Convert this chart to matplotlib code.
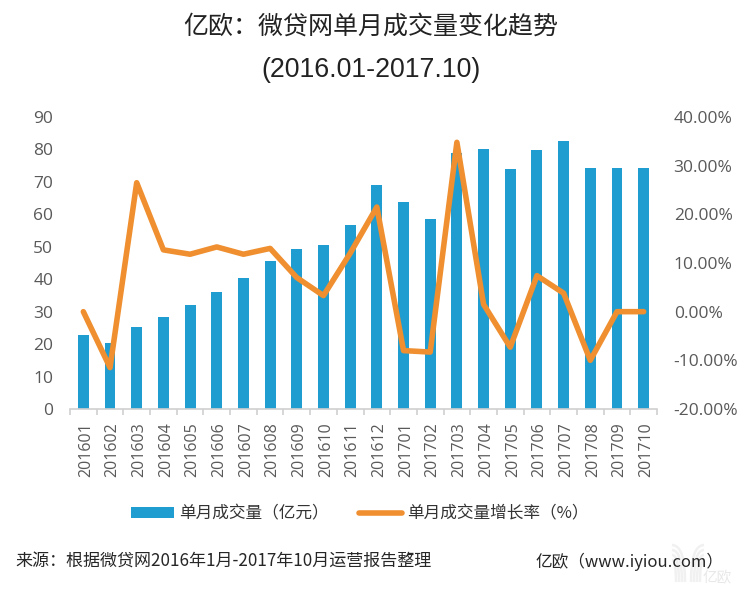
import matplotlib
matplotlib.use("Agg")
import matplotlib.pyplot as plt
from matplotlib.patches import PathPatch
from matplotlib.path import Path
from matplotlib.transforms import ScaledTranslation
import numpy as np

months = ["201601", "201602", "201603", "201604", "201605", "201606", "201607", "201608",
          "201609", "201610", "201611", "201612", "201701", "201702", "201703", "201704",
          "201705", "201706", "201707", "201708", "201709", "201710"]
volume = [22.7, 20.2, 25.3, 28.5, 32.0, 36.2, 40.5, 45.7, 49.2, 50.7, 56.8,
          69.0, 63.8, 58.5, 79.0, 80.2, 74.0, 79.8, 82.6, 74.3, 74.3, 74.3]
growth = [0.0, -11.5, 26.5, 12.7, 11.8, 13.3, 11.8, 13.0, 7.0, 3.3, 12.0,
          21.5, -8.0, -8.3, 34.8, 1.5, -7.3, 7.4, 3.8, -10.0, 0.0, 0.0]
left_ticks = [0, 10, 20, 30, 40, 50, 60, 70, 80, 90]
right_ticks = [-20, -10, 0, 10, 20, 30, 40]

W, H = 742, 592
BLUE = "#1f9dd1"
ORANGE = "#ef8f2f"
GREY = "#595959"
CJK = ["Noto Sans CJK SC", "DejaVu Sans"]

plt.rcParams["font.family"] = ["Open Sans", "Noto Sans CJK SC", "DejaVu Sans"]

fig = plt.figure(figsize=(W / 100, H / 100), dpi=100)

# faint logo of the watermark, behind everything else
for i in range(4):
    for side in (-1, 1):
        verts = [(688 + side * 16, 592 - 545 - i * 5),
                 (688 + side * (3 + i * 3), 592 - 545 - i * 5),
                 (688 + side * (3 + i * 3), 592 - 582)]
        fig.add_artist(PathPatch(Path(verts, [Path.MOVETO, Path.CURVE3, Path.CURVE3]),
                                 fill=False, ec="#f1f1f1", lw=1.8, transform=None, zorder=0))

ax = fig.add_axes([70 / W, 1 - 409 / H, 587 / W, 292 / H])
ax.patch.set_alpha(0)

x = np.arange(len(months))
bars = ax.bar(x, volume, width=0.41, color=BLUE)
ax.set_xlim(-0.5, len(months) - 0.5)
ax.set_ylim(0, 90)
ax.set_yticks(left_ticks)
ax.set_xticks(x)
ax.set_xticklabels(months, rotation=90)
ax.tick_params(axis="y", length=0, labelsize=12.5, labelcolor=GREY, pad=12)
ax.tick_params(axis="x", length=0, labelsize=11.5, labelcolor=GREY, pad=9.5)
# the rotated labels sit a little left of the bars otherwise
shift = ScaledTranslation(2.5 / 100, 0, fig.dpi_scale_trans)
for lab in ax.get_xticklabels():
    lab.set_transform(lab.get_transform() + shift)
for s in ["top", "left", "right"]:
    ax.spines[s].set_visible(False)
ax.spines["bottom"].set_color("#d0d0d0")
ax.spines["bottom"].set_linewidth(1.2)
# small tick marks between the categories
ax.set_xticks(np.arange(len(months) + 1) - 0.5, minor=True)
ax.tick_params(axis="x", which="minor", length=4, color="#d0d0d0", width=1.2, direction="out")

ax2 = ax.twinx()
ax2.patch.set_alpha(0)
line, = ax2.plot(x, growth, color=ORANGE, lw=4, solid_joinstyle="round", solid_capstyle="round")
ax2.set_ylim(-20, 40)
ax2.set_yticks(right_ticks)
ax2.set_yticklabels([f"{v:.2f}%" for v in right_ticks])
ax2.tick_params(axis="y", length=0, labelsize=12.5, labelcolor=GREY, pad=12)
for s in ax2.spines.values():
    s.set_visible(False)

fig.text(371 / W, 1 - 28 / H, "亿欧：微贷网单月成交量变化趋势", ha="center", va="center",
         fontsize=18, color="#222222", family=CJK)
fig.text(371 / W, 1 - 70 / H, "(2016.01-2017.10)", ha="center", va="center",
         fontsize=19.3, color="#222222", family=["Liberation Sans"])

fig.legend([bars, line], ["单月成交量（亿元）", "单月成交量增长率（%）"], loc="center",
           bbox_to_anchor=(359.5 / W, 1 - 514 / H), ncol=2, frameon=False,
           prop={"family": CJK, "size": 12}, labelcolor="#333333",
           handlelength=2.6, handleheight=0.6, handletextpad=0.3, columnspacing=1.8)

fig.text(15 / W, 1 - 562 / H, "来源：根据微贷网2016年1月-2017年10月运营报告整理", ha="left", va="center",
         fontsize=12.25, color="#262626", family=CJK)
fig.text(535 / W, 1 - 562 / H, "亿欧（www.iyiou.com）", ha="left", va="center",
         fontsize=12, color="#262626", family=CJK)
# faint watermark
fig.text(717 / W, 1 - 578 / H, "亿欧", ha="center", va="center", fontsize=10.5,
         color="#e8e8e8", family=CJK)

fig.savefig("out.png", dpi=100)
